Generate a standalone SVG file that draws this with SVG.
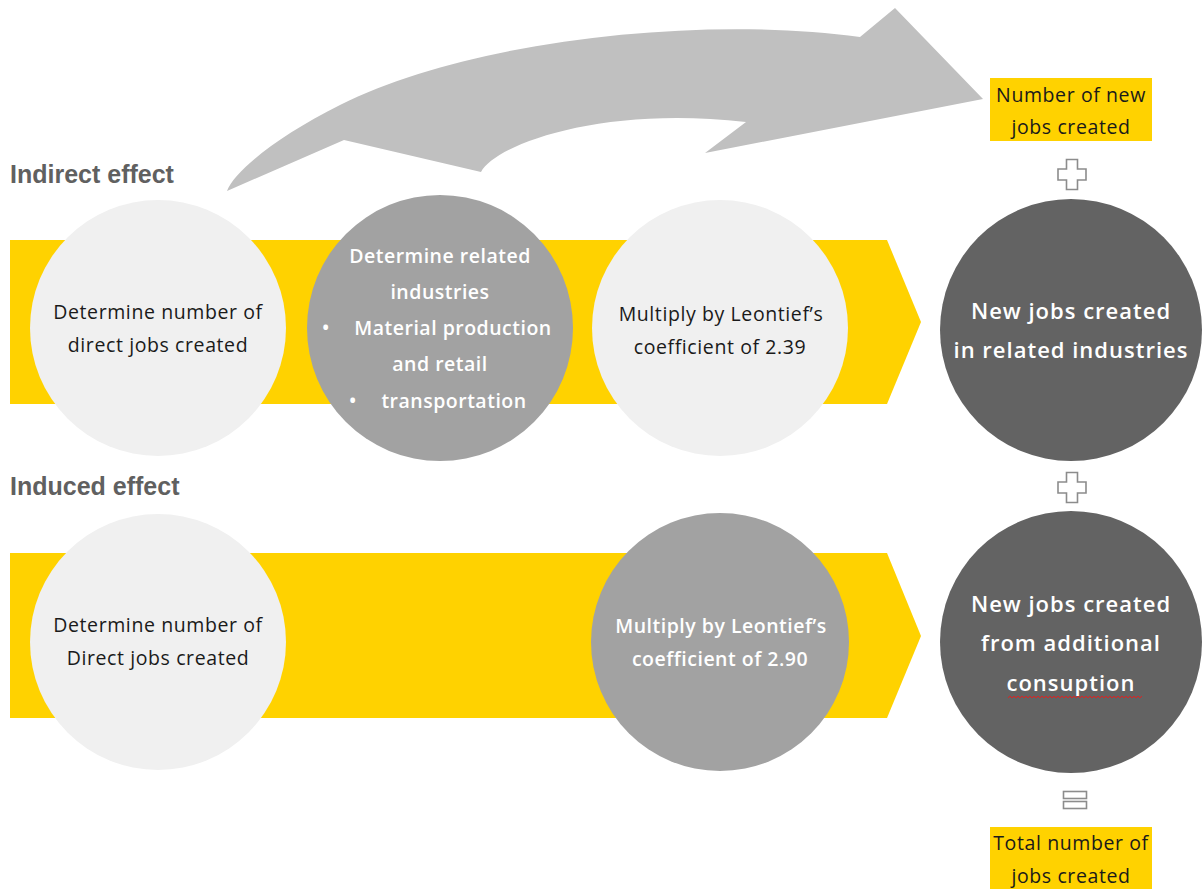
<svg xmlns="http://www.w3.org/2000/svg" width="1203" height="889" viewBox="0 0 1203 889">
<style>
.band{fill:#ffd200}
.light{fill:#f0f0f0}
.mid{fill:#a2a2a2}
.dark{fill:#636363}
.t{font-family:"Open Sans","Liberation Sans",sans-serif;font-size:19.5px;letter-spacing:0.6px;text-anchor:middle}
.tk{fill:#1a1a1a;font-weight:500}
.tw{fill:#ffffff;font-weight:600;font-size:19.5px;letter-spacing:0.5px}
.tb{font-family:"Open Sans","Liberation Sans",sans-serif;font-size:22px;letter-spacing:1px;font-weight:600;text-anchor:middle;fill:#ffffff}
.lbl{font-family:"Liberation Sans","Open Sans",sans-serif;font-size:25px;font-weight:bold;fill:#606060}
.sym{fill:#ffffff;stroke:#8c8c8c;stroke-width:1.6}
</style>
<rect width="1203" height="889" fill="#ffffff"/>
<g id="connectors">
<path id="big-arrow" d="M227,191 L344,140 L481,172 C495,145 600,105 746,122 L705,153 L983,99 L895,8 L860,37 C700,15 470,40 340,105 C280,135 235,170 227,191 Z" fill="#c0c0c0"/>
<polygon id="band-top" class="band" points="10,240 887,240 921,322 887,404 10,404"/>
<polygon id="band-bottom" class="band" points="10,553 887,553 921,636 887,718 10,718"/>
</g>
<g id="label-indirect"><text class="lbl" x="10" y="183">Indirect effect</text></g>
<g id="label-induced"><text class="lbl" x="10" y="495">Induced effect</text></g>
<g id="node-direct-top">
<circle class="light" cx="158" cy="328" r="128"/>
<text class="t tk" x="158" y="319">Determine number of</text>
<text class="t tk" x="158" y="352">direct jobs created</text>
</g>
<g id="node-related">
<circle class="mid" cx="440" cy="328" r="133"/>
<text class="t tw" x="440" y="263">Determine related</text>
<text class="t tw" x="440" y="299">industries</text>
<text class="t tw" x="322" y="335" style="text-anchor:start">•</text>
<text class="t tw" x="453" y="335">Material production</text>
<text class="t tw" x="440" y="371">and retail</text>
<text class="t tw" x="349" y="408" style="text-anchor:start">•</text>
<text class="t tw" x="454" y="408">transportation</text>
</g>
<g id="node-mult-top">
<circle class="light" cx="720" cy="328" r="128"/>
<text class="t tk" x="721" y="321">Multiply by Leontief’s</text>
<text class="t tk" x="720" y="354">coefficient of 2.39</text>
</g>
<g id="node-result-top">
<circle class="dark" cx="1071" cy="330" r="131"/>
<text class="tb" x="1071" y="319">New jobs created</text>
<text class="tb" x="1071" y="358">in related industries</text>
</g>
<g id="node-direct-bottom">
<circle class="light" cx="158" cy="642" r="128"/>
<text class="t tk" x="158" y="632">Determine number of</text>
<text class="t tk" x="158" y="665">Direct jobs created</text>
</g>
<g id="node-mult-bottom">
<circle class="mid" cx="720" cy="642" r="129"/>
<text class="t tw" x="721" y="633">Multiply by Leontief’s</text>
<text class="t tw" x="720" y="666">coefficient of 2.90</text>
</g>
<g id="node-result-bottom">
<circle class="dark" cx="1071" cy="642" r="131"/>
<text class="tb" x="1071" y="612">New jobs created</text>
<text class="tb" x="1071" y="651">from additional</text>
<text class="tb" x="1071" y="691">consuption</text>
<path d="M1008,698 l2,-2 l2,2 l2,-2 l2,2 l2,-2 l2,2 l2,-2 l2,2 l2,-2 l2,2 l2,-2 l2,2 l2,-2 l2,2 l2,-2 l2,2 l2,-2 l2,2 l2,-2 l2,2 l2,-2 l2,2 l2,-2 l2,2 l2,-2 l2,2 l2,-2 l2,2 l2,-2 l2,2 l2,-2 l2,2 l2,-2 l2,2 l2,-2 l2,2 l2,-2 l2,2 l2,-2 l2,2 l2,-2 l2,2 l2,-2 l2,2 l2,-2 l2,2 l2,-2 l2,2 l2,-2 l2,2 l2,-2 l2,2 l2,-2 l2,2 l2,-2 l2,2 l2,-2 l2,2 l2,-2 l2,2 l2,-2 l2,2 l2,-2 l2,2 l2,-2 l2,2 l2,-2" fill="none" stroke="#d22" stroke-width="1"/>
</g>
<g id="box-new-jobs">
<rect x="990" y="78" width="162" height="63" fill="#ffd200"/>
<text class="t tk" x="1071" y="102">Number of new</text>
<text class="t tk" x="1071" y="134">jobs created</text>
</g>
<g id="plus-1"><path class="sym" d="M1066.5,159.5 h11 v9.5 h8.5 v11 h-8.5 v9.5 h-11 v-9.5 h-8.5 v-11 h8.5 Z"/></g>
<g id="plus-2"><path class="sym" d="M1066.5,472.5 h11 v9.5 h8.5 v11 h-8.5 v9.5 h-11 v-9.5 h-8.5 v-11 h8.5 Z"/></g>
<g id="equals"><rect class="sym" x="1063.5" y="791.5" width="23" height="7"/><rect class="sym" x="1063.5" y="801.5" width="23" height="7"/></g>
<g id="box-total">
<rect x="990" y="827" width="162" height="62" fill="#ffd200"/>
<text class="t tk" x="1071" y="850">Total number of</text>
<text class="t tk" x="1071" y="883">jobs created</text>
</g>
</svg>
